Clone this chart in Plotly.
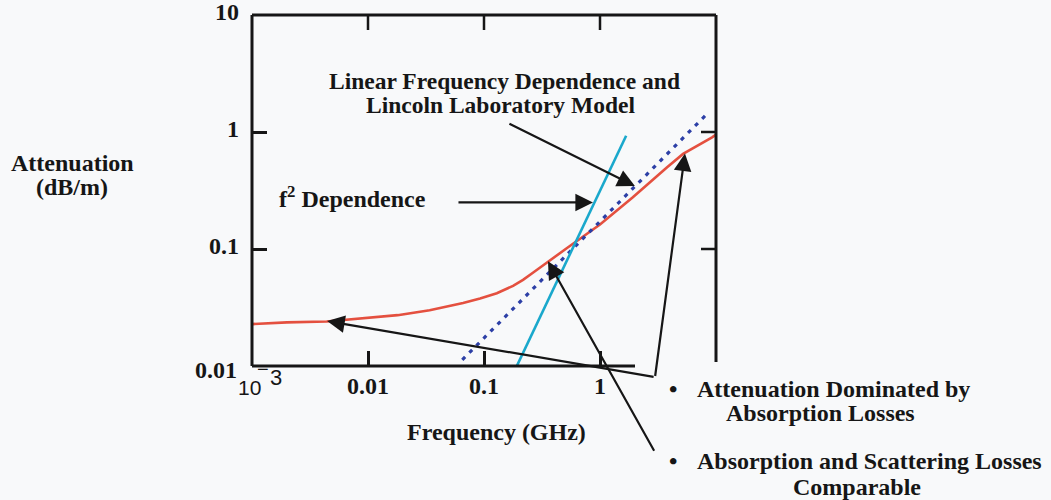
import math
import plotly.graph_objects as go

# Measured attenuation vs frequency
freq_ghz = [0.001, 0.002, 0.0044, 0.009, 0.018, 0.034, 0.066, 0.0925, 0.129,
            0.178, 0.217, 0.264, 0.349, 0.52, 1.0, 1.92, 3.79, 5.2, 9.25, 10.0]
atten_db_m = [0.0228, 0.0236, 0.0240, 0.0255, 0.0272, 0.030, 0.0346, 0.0378, 0.0419,
              0.0484, 0.0545, 0.0626, 0.0771, 0.102, 0.162, 0.277, 0.50, 0.65, 0.90, 0.95]

# Linear frequency dependence (Lincoln Laboratory model)
linear_freq = [0.065, 8.5]
linear_atten = [0.0113, 1.45]

# f^2 dependence
sq_freq = [0.19, 1.68]
sq_atten = [0.0098, 0.93]

x_tickvals = [0.01, 0.1, 1]
x_ticktext = ["0.01", "0.1", "1"]
y_tickvals = [0.1, 1, 10]
y_ticktext = ["0.1", "1", "10"]

X_RANGE = [-3, 1]
Y_RANGE = [-2, 1.00001]

W, H = 1051, 500
L, R, T, B = 252, 716, 15, 366
INK = "#161616"
BG = "#f8f9fa"
FONT = dict(family="Liberation Serif", size=24, color=INK, weight="bold")
TICKLEN = 15


def px(x):
    return (x - L) / (R - L)


def py(y):
    return (B - y) / (B - T)


fig = go.Figure()
fig.add_trace(go.Scatter(x=freq_ghz, y=atten_db_m, mode="lines",
                         line=dict(color="#e4503f", width=2.6),
                         hoverinfo="skip"))
fig.add_trace(go.Scatter(x=linear_freq, y=linear_atten, mode="lines",
                         line=dict(color="#2c3fa6", width=3.2, dash="4px,6px"),
                         hoverinfo="skip"))
fig.add_trace(go.Scatter(x=sq_freq, y=sq_atten, mode="lines",
                         line=dict(color="#1aa8cc", width=2.6),
                         hoverinfo="skip"))

tick_common = dict(ticks="inside", ticklen=TICKLEN, tickwidth=2.5, tickcolor=INK,
                   showgrid=False, zeroline=False, showline=False,
                   automargin=False, tickfont=FONT, ticklabeloverflow="allow")

fig.update_layout(
    width=W, height=H, autosize=False,
    margin=dict(l=L, r=W - R, t=T, b=H - B),
    paper_bgcolor=BG, plot_bgcolor=BG,
    showlegend=False,
    xaxis=dict(type="log", range=X_RANGE, tickvals=x_tickvals, ticktext=x_ticktext,
               ticklabelstandoff=3, **tick_common),
    yaxis=dict(type="log", range=Y_RANGE, tickvals=y_tickvals, ticktext=y_ticktext,
               ticklabelstandoff=12, ticklabelshift=-3, **tick_common),
)

# Plot frame (bottom edge stops short of the right corner)
frame = [
    (0, 0, 0, 1),
    (0, 1, 1, 1),
    (1, py(362), 1, 1),
    (0, 0, px(635), 0),
]
for x0, y0, x1, y1 in frame:
    fig.add_shape(type="line", xref="paper", yref="paper", x0=x0, y0=y0, x1=x1, y1=y1,
                  line=dict(color=INK, width=3), layer="above")

# Mirrored inside ticks on the top and right edges, at the same tick values
tick_line = dict(color=INK, width=2.5)
top_len = TICKLEN / (B - T)
right_len = TICKLEN / (R - L)
for v in x_tickvals:
    xp = (math.log10(v) - X_RANGE[0]) / (X_RANGE[1] - X_RANGE[0])
    fig.add_shape(type="line", xref="paper", yref="paper",
                  x0=xp, x1=xp, y0=1, y1=1 - top_len, line=tick_line, layer="above")
for v in y_tickvals[:-1]:
    yp = (math.log10(v) - Y_RANGE[0]) / (Y_RANGE[1] - Y_RANGE[0])
    fig.add_shape(type="line", xref="paper", yref="paper",
                  x0=1, x1=1 - right_len, y0=yp, y1=yp, line=tick_line, layer="above")


def label(text, x, y, xanchor="center", size=24, family="Liberation Serif", weight="bold"):
    fig.add_annotation(text=text, xref="paper", yref="paper", x=px(x), y=py(y),
                       xanchor=xanchor, yanchor="middle", showarrow=False,
                       font=dict(family=family, size=size, color=INK, weight=weight))


# corner labels: 0.01 on the y axis, 10^-3 on the x axis
label("0.01", 239, 370, xanchor="right")
label("10", 249, 387, family="Liberation Sans", weight="normal", size=21)
label("\u2212", 263, 369, family="Liberation Sans", weight="normal", size=20)
label("3", 276, 377, family="Liberation Sans", weight="normal", size=22)

label("Attenuation", 72, 163)
label("(dB/m)", 72, 187)
label("Frequency (GHz)", 496, 432)
label("Linear Frequency Dependence and", 504, 81, size=23.5)
label("Lincoln Laboratory Model", 500, 105, size=23.5)
label("f<sup>2</sup> Dependence", 352, 197)
label("\u2022", 673, 389)
label("Attenuation Dominated by", 695, 389, xanchor="left")
label("Absorption Losses", 820, 413)
label("\u2022", 673, 461)
label("Absorption and Scattering Losses", 695, 461, xanchor="left")
label("Comparable", 857, 487)


def arrow(f, v, ax, ay):
    fig.add_annotation(text="", xref="x", yref="y", x=math.log10(f), y=math.log10(v),
                       ax=ax, ay=ay, axref="pixel", ayref="pixel", showarrow=True,
                       arrowhead=2, arrowsize=1.6, arrowwidth=2.2, arrowcolor=INK,
                       standoff=0, startstandoff=0)


arrow(2.0, 0.345, -127, -63)      # to the linear-dependence line
arrow(0.87, 0.25, -136, 0)        # to the f^2 line
arrow(5.4, 0.655, -30, 224)       # absorption-dominated, high end
arrow(0.00444, 0.0242, 328, 56)   # absorption-dominated, low end
arrow(0.356, 0.0786, 107, 191)    # absorption and scattering comparable

fig.write_html("out.html")
